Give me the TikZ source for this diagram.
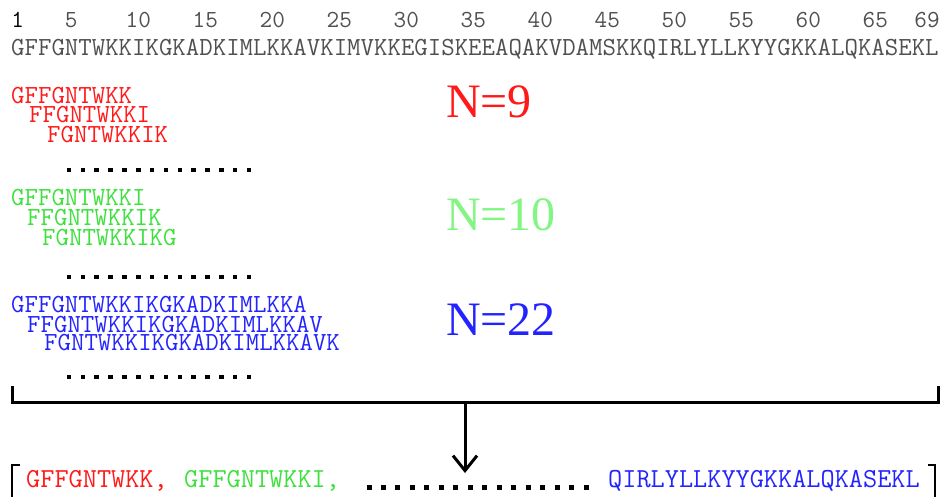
\documentclass[tikz,border=0pt]{standalone}
\usepackage{fontspec}
\setmainfont{Liberation Serif}
\usetikzlibrary{arrows.meta}
\definecolor{seqgray}{RGB}{80,80,80}
\definecolor{myred}{RGB}{255,25,25}
\definecolor{mygreen}{RGB}{60,225,60}
\definecolor{mygreenN}{RGB}{130,245,130}
\definecolor{myblue}{RGB}{35,35,255}
\begin{document}
\begin{tikzpicture}[x=1pt,y=-1pt,
  seq/.style={anchor=base west, inner sep=0pt, font=\fontsize{26.1}{27}\ttfamily},
  bseq/.style={anchor=base west, inner sep=0pt, font=\fontsize{27.5}{28}\ttfamily},
  num/.style={anchor=base, inner sep=0pt, font=\fontsize{24.5}{26}\ttfamily, text=seqgray},
  nlab/.style={anchor=base west, inner sep=0pt, font=\fontsize{48}{50}\selectfont},
  sq/.style={fill=black, minimum size=4.5pt, inner sep=0pt, draw=none},
  brk/.style={line width=3pt, line cap=rect}]
\useasboundingbox (0,0) rectangle (940,496);
% position numbers
\node[num, text=black] (n1) at ({11+0.5*13.4},27) {1};
\foreach \n in {5,10,...,65}{
  \node[num] (n\n) at ({11+(\n-0.5)*13.4},27) {\n};
}
\node[num] (n69) at (927,27) {69};
% full sequence
\node[seq, text=seqgray] (full) at (11,55) {GFFGNTWKKIKGKADKIMLKKAVKIMVKKEGISKEEAQAKVDAMSKKQIRLYLLKYYGKKALQKASEKL};
% N=9
\node[seq, text=myred] (r1) at (11,103) {GFFGNTWKK};
\node[seq, text=myred] (r2) at (29,122) {FFGNTWKKI};
\node[seq, text=myred] (r3) at (47,142) {FGNTWKKIK};
\node[nlab, text=myred] (N9) at (446,117) {N=9};
\foreach \i in {0,...,13} \node[sq] (da\i) at ({69+\i*13.85},170) {};
% N=10
\node[seq, text=mygreen] (g1) at (11,205) {GFFGNTWKKI};
\node[seq, text=mygreen] (g2) at (27,225) {FFGNTWKKIK};
\node[seq, text=mygreen] (g3) at (42,245) {FGNTWKKIKG};
\node[nlab, text=mygreenN] (N10) at (446,230) {N=10};
\foreach \i in {0,...,13} \node[sq] (db\i) at ({69+\i*13.85},277) {};
% N=22
\node[seq, text=myblue] (b1) at (11,312) {GFFGNTWKKIKGKADKIMLKKA};
\node[seq, text=myblue] (b2) at (27,332) {FFGNTWKKIKGKADKIMLKKAV};
\node[seq, text=myblue] (b3) at (44,350) {FGNTWKKIKGKADKIMLKKAVK};
\node[nlab, text=myblue] (N22) at (446,335) {N=22};
\foreach \i in {0,...,13} \node[sq] (dc\i) at ({69+\i*13.85},377) {};
% collecting bracket
\coordinate (bl) at (12,387);
\coordinate (blc) at (12,402);
\coordinate (brc) at (938,402);
\coordinate (br) at (938,387);
\coordinate (bm) at (465,402);
\coordinate (at) at (465,473);
\draw[brk] (bl) -- (blc) -- (brc) -- (br);
\draw[line width=3pt, -{Straight Barb[length=15pt,width=24pt,line width=3pt]}] (bm) -- (at);
% result list
\coordinate (lb1) at (20,465);
\coordinate (lb2) at (12,465);
\coordinate (lb3) at (12,500);
\coordinate (rb1) at (928,465);
\coordinate (rb2) at (935,465);
\coordinate (rb3) at (935,500);
\draw[line width=2pt] (lb1) -- (lb2) -- (lb3);
\draw[line width=2pt] (rb1) -- (rb2) -- (rb3);
\node[bseq, text=myred] (o1) at (26,487) {GFFGNTWKK,};
\node[bseq, text=mygreen] (o2) at (184,487) {GFFGNTWKKI,};
\foreach \i in {0,...,15} \node[sq, minimum size=5pt] (dd\i) at ({369+\i*14.47},487) {};
\node[bseq, text=myblue] (o3) at (608,487) {QIRLYLLKYYGKKALQKASEKL};
\end{tikzpicture}
\end{document}
